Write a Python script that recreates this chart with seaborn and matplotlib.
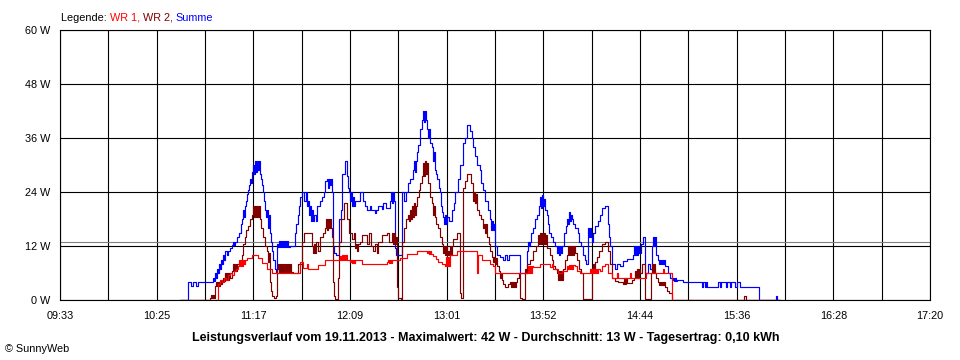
import matplotlib
matplotlib.use("Agg")
import matplotlib.pyplot as plt
import seaborn as sns
import numpy as np

# ---------------- data (minutes after 09:33, watts) ----------------
summe_t = [64.4, 68.7, 70.3, 71.4, 73.0, 74.1, 82.1, 82.7, 83.2, 83.7, 84.3, 84.8, 85.3, 85.9, 86.4, 87.0,
           87.5, 88.0, 88.6, 89.6, 90.2, 91.3, 92.3, 92.9, 93.4, 93.9, 95.0, 96.1, 97.2, 97.7, 98.2, 98.8,
           99.3, 99.8, 100.4, 100.9, 101.5, 102.0, 102.5, 103.1, 103.6, 104.1, 104.7, 105.2, 105.7, 106.3,
           106.8, 107.4, 107.9, 108.4, 109.0, 109.5, 110.0, 110.6, 111.1, 111.6, 112.2, 112.7, 113.3, 113.8,
           114.3, 115.4, 115.9, 116.5, 117.0, 117.6, 118.1, 118.6, 119.2, 119.7, 120.2, 120.8, 121.3, 121.9,
           122.4, 123.5, 126.1, 126.7, 127.8, 128.3, 128.8, 129.9, 131.0, 132.0, 132.6, 133.1, 133.7, 134.2,
           134.7, 135.3, 135.8, 136.3, 137.4, 138.0, 139.6, 140.6, 141.7, 142.2, 143.3, 143.9, 144.4, 144.9,
           145.5, 146.0, 146.5, 147.1, 148.2, 149.8, 150.8, 151.4, 153.0, 153.8, 154.6, 155.1, 155.7, 156.2,
           156.7, 157.3, 157.8, 158.4, 161.0, 162.6, 163.7, 164.8, 166.4, 166.9, 169.1, 169.6, 170.7, 172.8,
           173.4, 175.0, 177.1, 177.7, 178.2, 178.7, 179.3, 179.8, 180.4, 183.6, 184.7, 185.7, 186.8, 187.9,
           189.5, 190.0, 190.6, 191.1, 191.6, 192.2, 193.2, 194.3, 194.9, 195.4, 195.9, 196.5, 197.0, 197.5,
           198.1, 198.6, 199.7, 200.2, 200.8, 201.3, 201.8, 202.4, 203.4, 204.0, 204.5, 205.1, 205.6, 206.1,
           206.7, 207.2, 207.7, 208.8, 210.4, 211.5, 212.0, 213.6, 214.7, 216.3, 217.4, 218.5, 220.1, 221.2,
           221.7, 222.8, 223.8, 225.5, 226.0, 227.1, 228.1, 229.7, 230.8, 231.4, 231.9, 232.4, 233.0, 233.5,
           234.6, 236.2, 237.8, 238.9, 239.9, 241.0, 246.9, 250.7, 251.2, 251.8, 252.3, 252.8, 253.9, 255.0,
           256.0, 257.1, 257.7, 258.2, 258.7, 259.3, 259.8, 260.3, 261.4, 261.9, 262.5, 263.6, 264.6, 265.7,
           266.8, 267.3, 267.9, 268.4, 268.9, 269.5, 270.5, 271.6, 272.2, 272.7, 273.2, 273.8, 274.3, 274.8,
           275.4, 276.4, 278.1, 278.6, 279.7, 280.7, 281.8, 282.3, 283.4, 284.0, 284.5, 285.0, 285.6, 286.1,
           287.2, 288.8, 289.9, 290.9, 292.5, 294.2, 294.7, 295.2, 296.3, 297.9, 299.0, 300.6, 302.2, 304.4,
           307.6, 308.1, 308.7, 309.2, 309.7, 310.3, 310.8, 311.9, 312.9, 314.0, 315.6, 316.7, 317.8, 318.3,
           318.8, 319.4, 319.9, 321.0, 321.5, 322.1, 322.6, 323.1, 323.7, 324.2, 324.7, 326.4, 327.4, 328.5,
           329.0, 329.6, 330.1, 330.7, 331.2, 334.4, 344.6, 345.1, 346.2, 346.8, 347.3, 353.2, 354.3, 354.8,
           357.5, 358.0, 359.6, 360.2, 362.3, 363.4, 365.0, 375.2, 384.3, 384.9, 386.5]
summe_w = [0, 3.9, 3.2, 3.9, 3.2, 3.9, 5.0, 4.3, 6.0, 5.0, 7.0, 6.0, 8.0, 7.0, 9.0, 8.0,
           10.0, 9.0, 11.0, 10.0, 11.0, 11.5, 12.3, 13.0, 12.3, 13.0, 14.0, 15.0, 17.0, 18.0, 20.0, 18.5,
           21.0, 22.0, 23.5, 24.5, 25.5, 27.0, 26.0, 28.5, 30.0, 28.0, 31.0, 28.5, 31.0, 29.0,
           31.0, 28.0, 27.0, 25.5, 24.0, 22.0, 20.0, 18.5, 20.0, 16.0, 19.0, 15.0, 13.0, 11.0,
           9.0, 7.0, 6.0, 12.5, 11.8, 13.2, 11.8, 13.2, 11.8, 13.2, 11.8, 13.2, 11.8, 13.2,
           11.8, 12.0, 15.0, 17.0, 19.0, 21.0, 23.0, 24.0, 22.0, 24.0, 21.0, 22.0, 19.0, 21.0,
           17.5, 20.0, 17.5, 19.0, 17.5, 21.0, 22.0, 23.0, 24.0, 26.5, 27.0, 25.0, 27.0, 25.5,
           27.0, 24.0, 12.0, 10.5, 10.0, 18.0, 20.0, 28.0, 31.0, 27.5, 25.0, 24.0, 22.0, 24.0,
           21.0, 23.0, 21.0, 22.0, 24.0, 22.0, 21.0, 20.0, 20.8, 20.0, 19.3, 20.0, 21.0, 20.3,
           21.5, 20.5, 22.0, 24.0, 21.5, 24.0, 22.0, 11.5, 10.0, 24.0, 22.0, 24.0, 26.0, 27.0,
           29.0, 31.0, 28.5, 31.0, 33.0, 34.5, 38.0, 40.0, 42.0, 39.5, 42.0, 40.0, 38.0, 36.0,
           38.0, 35.0, 34.0, 31.0, 33.0, 29.0, 28.0, 27.0, 25.0, 24.0, 21.0, 19.5, 18.5, 17.0,
           19.0, 17.0, 18.5, 17.5, 20.0, 21.5, 24.0, 27.0, 30.0, 35.0, 36.0, 39.0, 37.5, 36.0,
           34.0, 32.0, 30.0, 29.0, 26.0, 24.5, 22.0, 20.0, 18.0, 15.5, 17.5, 15.5, 17.0, 12.0,
           10.0, 9.5, 9.0, 10.0, 9.0, 10.0, 6.0, 11.0, 13.0, 12.0, 13.0, 15.0, 16.0, 18.0,
           19.0, 21.0, 23.0, 20.5, 23.3, 21.0, 22.5, 20.0, 19.0, 17.0, 15.0, 14.0, 13.0, 12.0,
           10.5, 12.0, 10.0, 12.0, 10.5, 12.0, 15.0, 16.5, 18.0, 17.0, 19.5, 17.5, 19.0, 18.0,
           17.0, 16.0, 15.0, 13.0, 12.0, 10.0, 9.0, 8.0, 16.0, 14.0, 16.0, 14.0, 13.0, 15.0,
           16.5, 17.5, 19.0, 20.5, 21.0, 17.0, 14.0, 12.0, 8.0, 7.0, 8.0, 7.5, 8.7, 9.2,
           10.0, 12.0, 10.0, 12.0, 10.0, 12.0, 10.5, 12.5, 14.0, 6.0, 8.0, 7.0, 12.0, 14.0,
           12.0, 14.0, 10.0, 9.0, 8.0, 9.0, 8.0, 9.0, 8.0, 9.0, 7.5, 6.0, 5.0, 4.5,
           5.0, 4.2, 5.0, 4.2, 4.5, 4.0, 3.0, 4.0, 3.0, 4.0, 3.0, 4.0, 3.0, 4.0,
           3.0, 4.0, 3.0, 4.0, 3.0, 4.0, 3.0, 0, 1.0, 0, 0]

wr2_t = [64.4, 80.5, 81.1, 81.6, 82.1, 82.7, 83.2, 83.7, 84.3, 84.8, 85.3, 85.9, 86.4, 87.0, 87.5, 88.0,
         88.6, 89.1, 89.6, 90.2, 90.7, 91.3, 92.3, 92.9, 93.4, 93.9, 94.5, 95.0, 97.7, 98.2, 99.3, 99.8,
         100.9, 102.0, 103.1, 103.6, 104.1, 104.7, 105.2, 105.7, 106.3, 106.8, 107.4, 107.9, 109.0, 110.0,
         111.1, 111.6, 112.2, 112.7, 113.3, 113.8, 114.9, 115.9, 116.5, 117.0, 117.6, 118.1, 118.6, 119.2,
         119.7, 120.2, 120.8, 121.3, 121.9, 122.4, 122.9, 123.5, 124.0, 125.1, 127.8, 129.9, 131.0, 135.3,
         135.8, 136.3, 136.9, 137.4, 138.5, 139.6, 141.2, 142.2, 142.8, 143.3, 143.9, 144.4, 144.9, 145.5,
         146.0, 146.5, 147.1, 147.6, 149.2, 149.8, 150.8, 152.5, 154.1, 155.1, 156.7, 157.8, 158.4, 158.9,
         159.4, 160.0, 161.0, 162.1, 164.8, 165.9, 166.9, 168.0, 169.1, 170.2, 170.7, 172.8, 175.5, 176.6,
         178.2, 178.7, 179.3, 179.8, 180.4, 180.9, 181.4, 183.1, 183.6, 184.7, 185.7, 186.8, 187.3, 187.9,
         188.4, 188.9, 189.5, 190.0, 190.6, 191.1, 191.6, 192.7, 193.2, 194.3, 194.9, 195.4, 195.9, 196.5,
         197.0, 197.5, 198.6, 199.7, 200.2, 200.8, 201.3, 201.8, 202.9, 204.0, 205.1, 205.6, 206.1, 206.7,
         207.2, 207.7, 208.3, 208.8, 209.4, 209.9, 210.4, 210.9, 213.1, 214.7, 215.3, 216.3, 217.4, 218.5,
         220.6, 221.7, 222.2, 222.8, 223.3, 223.8, 224.9, 226.0, 227.1, 227.6, 228.1, 228.7, 229.2, 230.3,
         230.8, 231.9, 232.4, 233.0, 233.5, 234.0, 234.6, 235.6, 236.2, 236.7, 237.3, 237.8, 238.9, 240.5,
         241.6, 242.1, 242.6, 243.2, 243.7, 244.2, 244.8, 245.3, 246.4, 246.9, 248.0, 249.6, 250.2, 250.7,
         252.3, 253.9, 255.5, 256.6, 257.1, 257.7, 258.2, 258.7, 259.3, 259.8, 260.3, 260.9, 261.4, 263.0,
         264.1, 264.6, 265.7, 266.8, 267.3, 267.9, 268.4, 268.9, 269.5, 270.0, 271.1, 272.2, 272.7, 273.2,
         273.8, 274.3, 274.8, 275.4, 275.9, 276.4, 277.5, 278.6, 279.7, 280.7, 285.6, 286.1, 286.6, 287.2,
         288.3, 289.3, 290.9, 292.5, 294.2, 295.2, 296.3, 297.9, 299.5, 302.2, 302.7, 303.3, 303.8, 304.4,
         307.0, 308.1, 308.7, 309.2, 309.7, 310.3, 310.8, 311.3, 312.4, 314.0, 317.2, 317.8, 318.3, 318.8,
         319.4, 319.9, 321.0, 321.5, 322.1, 322.6, 323.1, 323.7, 324.2, 324.7, 325.8, 326.9, 328.5, 367.2,
         368.3, 386.5]
wr2_w = [0, 0.5, 1.2, 0.5, 1.2, 0.5, 3.2, 4.0, 3.2, 4.0, 3.2, 4.3, 3.5, 4.3, 5.0, 4.3,
         6.0, 4.5, 6.0, 4.5, 6.0, 5.0, 6.5, 8.0, 6.5, 8.0, 6.5, 8.0, 10.0, 12.5, 14.0, 15.5,
         16.5, 18.0, 19.0, 21.0, 18.5, 21.0, 18.5, 21.0, 18.5, 21.0, 18.0, 16.0, 14.0, 12.0,
         11.0, 8.5, 10.5, 4.0, 2.0, 1.0, 0.5, 1.0, 7.0, 8.0, 6.2, 8.0, 6.2, 8.0,
         6.2, 8.0, 6.2, 8.0, 6.2, 8.0, 6.2, 8.0, 6.2, 6.0, 8.0, 13.0, 15.0, 12.0,
         10.5, 12.5, 10.5, 13.0, 11.0, 14.0, 15.0, 16.0, 18.0, 15.5, 18.0, 16.0, 18.0, 16.0,
         14.0, 4.0, 1.0, 0.3, 5.0, 13.0, 18.0, 21.5, 18.0, 15.0, 13.5, 15.0, 11.5, 12.5,
         11.0, 12.5, 13.0, 14.5, 12.5, 15.0, 12.0, 11.0, 12.5, 10.5, 13.0, 14.5, 15.0, 13.0,
         15.0, 12.5, 15.0, 12.5, 14.0, 3.0, 0.5, 0.3, 13.0, 16.0, 18.0, 19.0, 17.5, 20.0,
         18.0, 21.0, 18.5, 21.5, 19.0, 21.0, 23.0, 24.5, 26.0, 27.5, 30.5, 27.5, 31.0, 28.0,
         30.5, 26.0, 23.0, 21.5, 19.0, 21.0, 18.5, 17.0, 16.0, 14.0, 12.5, 10.5, 12.0, 10.0,
         12.0, 10.0, 11.0, 10.0, 12.0, 10.0, 12.0, 13.5, 15.0, 1.5, 0.5, 25.0, 26.5, 28.0,
         26.0, 22.0, 24.0, 21.5, 23.5, 20.0, 19.0, 18.0, 16.0, 17.0, 15.0, 17.0, 14.0, 12.5,
         11.0, 9.5, 8.5, 9.5, 8.0, 9.3, 7.5, 6.5, 5.0, 6.0, 4.5, 3.5, 3.0, 3.5,
         4.0, 3.0, 4.0, 3.0, 4.0, 3.0, 4.0, 5.0, 6.0, 0.5, 0.3, 7.0, 6.0, 8.0,
         9.0, 11.0, 12.0, 14.5, 12.5, 15.0, 12.5, 15.0, 12.5, 15.0, 12.5, 14.5, 11.5, 10.0,
         9.0, 7.5, 7.0, 6.0, 4.5, 6.5, 4.5, 6.5, 4.5, 7.0, 9.0, 10.0, 12.0, 10.0,
         12.0, 10.0, 12.0, 10.0, 12.0, 10.5, 9.0, 7.0, 6.0, 0.3, 6.5, 8.0, 6.5, 8.5,
         9.5, 11.0, 12.5, 13.0, 11.0, 8.0, 5.0, 4.2, 4.0, 3.5, 5.0, 3.5, 5.0, 3.7,
         4.5, 5.0, 6.5, 5.0, 7.0, 5.0, 7.0, 6.0, 8.0, 0.3, 6.0, 8.0, 6.0, 8.0,
         6.0, 5.0, 4.0, 3.3, 4.0, 3.3, 4.0, 3.3, 4.0, 3.0, 2.0, 1.5, 0, 1.0,
         0, 0]

wr1_t = [64.4, 84.8, 85.9, 87.0, 88.0, 89.1, 90.2, 91.3, 92.3, 93.4, 94.5, 95.5, 96.1, 96.6, 97.2, 97.7,
         98.2, 98.8, 99.3, 100.4, 103.1, 106.3, 108.4, 111.1, 113.8, 128.8, 130.4, 132.6, 133.1, 138.5,
         142.2, 150.3, 150.8, 151.4, 151.9, 152.5, 153.0, 153.5, 154.1, 155.7, 156.2, 156.7, 157.3, 157.8,
         158.4, 162.1, 175.5, 176.1, 176.6, 177.1, 177.7, 178.2, 182.5, 186.3, 191.6, 197.0, 197.5, 198.1,
         198.6, 199.1, 200.2, 201.8, 202.9, 205.1, 206.7, 207.2, 207.7, 208.3, 208.8, 209.4, 213.1, 223.8,
         224.4, 226.5, 230.8, 232.4, 233.5, 251.2, 251.8, 252.3, 252.8, 253.4, 253.9, 257.7, 263.0, 264.1,
         264.6, 265.7, 267.3, 269.5, 272.2, 272.7, 273.2, 273.8, 274.3, 274.8, 275.4, 276.4, 277.5, 279.1,
         284.5, 285.0, 285.6, 286.1, 286.6, 287.2, 287.7, 288.3, 288.8, 289.9, 290.9, 292.5, 294.2, 296.3,
         299.0, 299.5, 306.0, 306.5, 314.5, 323.7, 324.2, 328.5, 386.5]
wr1_w = [0, 3.5, 4.5, 4.0, 5.0, 4.5, 5.5, 6.0, 5.5, 6.5, 7.0, 7.5, 8.8, 7.5, 8.8, 7.5,
         8.8, 8.0, 9.0, 9.3, 10.0, 9.3, 8.3, 7.0, 6.0, 8.5, 7.2, 8.0, 7.0, 7.8,
         8.9, 9.8, 9.0, 10.0, 9.0, 10.0, 9.0, 10.0, 8.9, 8.5, 9.0, 8.3, 9.0, 8.3,
         9.0, 8.1, 8.5, 9.0, 8.3, 9.0, 8.3, 9.0, 9.3, 10.3, 11.0, 10.5, 11.0, 10.3,
         11.0, 10.3, 9.8, 9.2, 8.5, 8.0, 7.5, 9.5, 7.5, 9.5, 7.5, 10.0, 11.0, 6.0,
         10.0, 9.0, 8.0, 7.5, 6.0, 7.5, 6.0, 7.5, 6.0, 7.5, 7.3, 8.0, 7.3, 8.0,
         7.0, 6.8, 6.0, 6.5, 7.5, 6.8, 7.7, 6.8, 7.7, 6.8, 7.7, 7.5, 6.5, 6.0,
         7.0, 6.0, 7.0, 6.0, 7.0, 6.0, 7.0, 6.0, 7.0, 6.5, 7.5, 8.0, 6.0, 5.0,
         6.0, 5.0, 6.0, 5.0, 6.0, 7.0, 6.0, 0, 0]

average_w = 12.8
time_span = 467  # 09:33 .. 17:20
x_labels = ["09:33", "10:25", "11:17", "12:09", "13:01", "13:52", "14:44", "15:36", "16:28", "17:20"]
y_values = [0, 12, 24, 36, 48, 60]
y_labels = ["0 W", "12 W", "24 W", "36 W", "48 W", "60 W"]
title = ("Leistungsverlauf vom 19.11.2013 - Maximalwert: 42 W - Durchschnitt: 13 W - "
         "Tagesertrag: 0,10 kWh")

# ---------------- figure ----------------
sns.set_style("white")
plt.rcParams["font.family"] = ["Liberation Sans", "DejaVu Sans"]

fig = plt.figure(figsize=(9.6, 3.6), dpi=100)
ax = fig.add_axes([60 / 960, 1 - 300 / 360, 870 / 960, 270 / 360])

ax.set_xlim(0, time_span)
ax.set_ylim(0, 60)

grid_x = np.linspace(0, time_span, 19)
for gx in grid_x:
    ax.axvline(gx, color="black", lw=0.8, zorder=1)
for gy in y_values:
    ax.axhline(gy, color="black", lw=0.8, zorder=1)
ax.axhline(average_w, color="#808080", lw=0.8, zorder=1.5)

common = dict(drawstyle="steps-post", estimator=None, sort=False, ax=ax, linewidth=0.85)
sns.lineplot(x=summe_t, y=summe_w, color="#0000FF", zorder=3, **common)
sns.lineplot(x=wr2_t, y=wr2_w, color="#800000", zorder=4, **common)
sns.lineplot(x=wr1_t, y=wr1_w, color="#FF0000", zorder=5, **common)

tick_texts = [x_labels[j // 2] if j % 2 == 0 else "" for j in range(19)]
ax.set_xticks(grid_x)
ax.set_xticklabels(tick_texts)
ax.set_yticks(y_values)
ax.set_yticklabels(y_labels)
ax.tick_params(axis="both", direction="out", length=4, width=0.8, color="black",
               labelsize=7.8, labelcolor="black")
ax.tick_params(axis="x", pad=4)
ax.tick_params(axis="y", pad=3)
ax.set_xlabel("")
ax.set_ylabel("")
for s in ax.spines.values():
    s.set_color("black")
    s.set_linewidth(0.8)
    s.set_visible(True)

# legend as coloured text
renderer = fig.canvas.get_renderer()
parts = [("Legende: ", "black"), ("WR 1, ", "#FF0000"), ("WR 2, ", "#800000"), ("Summe", "#0000FF")]
x0 = 61
for txt, col in parts:
    t = fig.text(x0 / 960, 1 - 21 / 360, txt, color=col, fontsize=7.8, ha="left", va="baseline")
    bb = t.get_window_extent(renderer=renderer)
    x0 += bb.width

fig.text(486 / 960, 1 - 341 / 360, title, fontsize=9, fontweight="bold", ha="center",
         va="baseline", color="black")
fig.text(5 / 960, 1 - 352 / 360, "\u00a9 SunnyWeb", fontsize=7.8, ha="left", va="baseline",
         color="black")

fig.savefig("out.png", dpi=100)
